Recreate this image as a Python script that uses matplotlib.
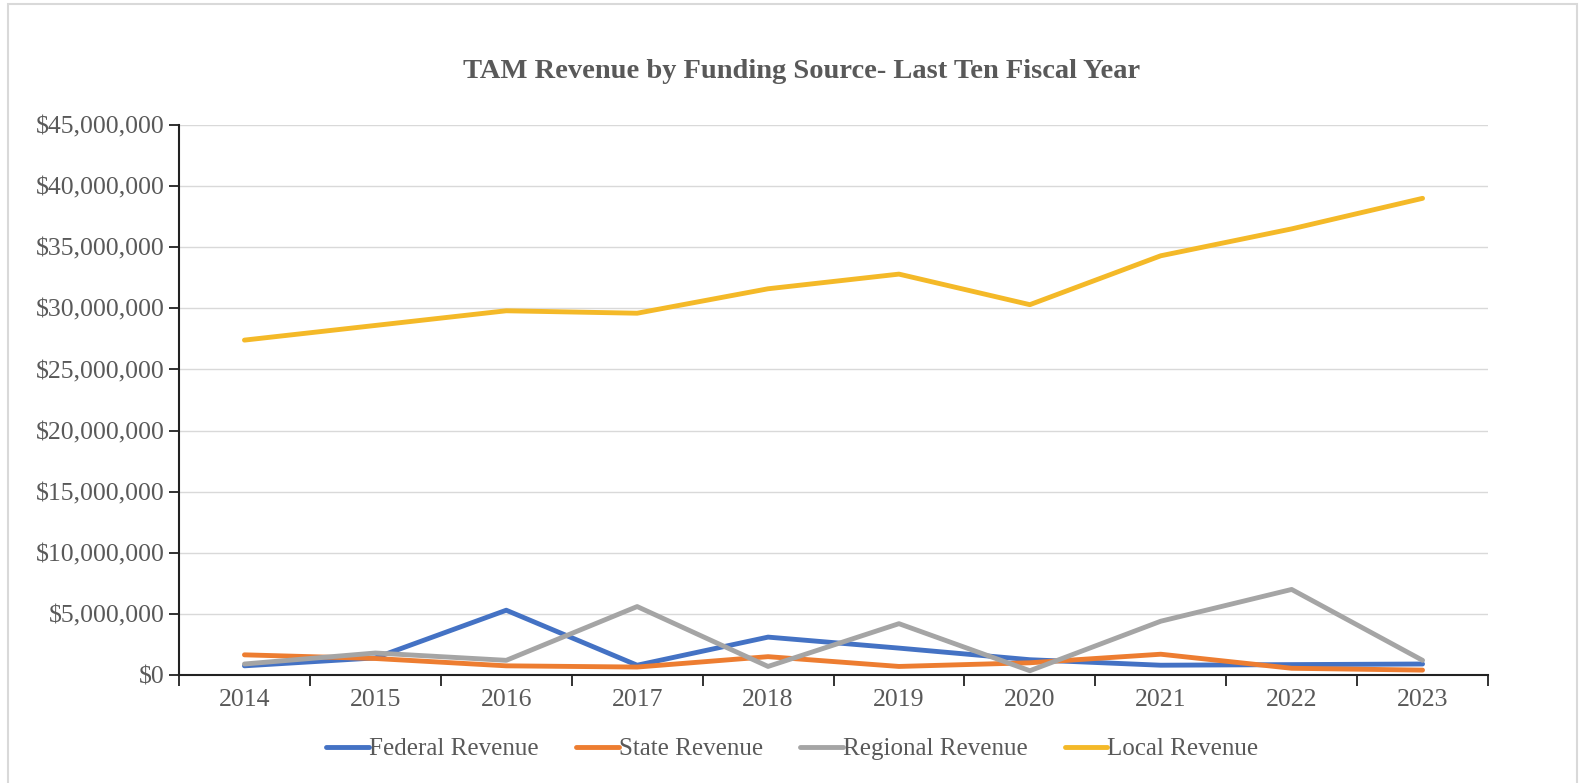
import matplotlib
matplotlib.use("Agg")
import matplotlib.pyplot as plt
from matplotlib.ticker import FuncFormatter, MultipleLocator, FixedLocator
from matplotlib.patches import Rectangle

years = ["2014", "2015", "2016", "2017", "2018", "2019", "2020", "2021", "2022", "2023"]
federal = [0.75e6, 1.4e6, 5.3e6, 0.8e6, 3.1e6, 2.2e6, 1.25e6, 0.8e6, 0.85e6, 0.9e6]
state = [1.65e6, 1.35e6, 0.75e6, 0.65e6, 1.5e6, 0.7e6, 1.0e6, 1.7e6, 0.55e6, 0.4e6]
regional = [0.9e6, 1.8e6, 1.2e6, 5.6e6, 0.7e6, 4.2e6, 0.35e6, 4.4e6, 7.0e6, 1.2e6]
local = [27.4e6, 28.6e6, 29.8e6, 29.6e6, 31.6e6, 32.8e6, 30.3e6, 34.3e6, 36.5e6, 39.0e6]

series = [
    ("Federal Revenue", federal, "#4472C4"),
    ("State Revenue", state, "#ED7D31"),
    ("Regional Revenue", regional, "#A5A5A5"),
    ("Local Revenue", local, "#F4B928"),
]

W, H = 1585, 783
fig = plt.figure(figsize=(W / 100, H / 100), dpi=100)
ax = fig.add_axes([179 / W, 1 - 675 / H, (1488 - 179) / W, (675 - 125) / H])

x = list(range(len(years)))
for name, vals, col in series:
    ax.plot(x, vals, color=col, lw=3.5, label=name, solid_capstyle="round", solid_joinstyle="round")

ax.set_xlim(-0.5, len(years) - 0.5)
ax.set_ylim(0, 45e6)
ax.yaxis.set_major_locator(MultipleLocator(5e6))
ax.yaxis.set_major_formatter(FuncFormatter(lambda v, p: "${:,.0f}".format(v)))
ax.set_xticks(x)
ax.set_xticklabels(years)
ax.xaxis.set_minor_locator(FixedLocator([i - 0.5 for i in range(len(years) + 1)]))
ax.tick_params(axis="x", which="major", length=0, pad=10)
ax.tick_params(axis="x", which="minor", length=8, width=1.3, color="#222222", direction="out")
ax.tick_params(axis="y", which="major", length=7, width=1.3, color="#222222", direction="out", pad=3.5)

serif = ["Liberation Serif", "DejaVu Serif"]
for lab in ax.get_xticklabels() + ax.get_yticklabels():
    lab.set_fontfamily(serif)
    lab.set_fontsize(18.5)
    lab.set_color("#595959")

ax.grid(axis="y", color="#d9d9d9", lw=1.0)
ax.set_axisbelow(True)
for s in ["top", "right"]:
    ax.spines[s].set_visible(False)
for s in ["left", "bottom"]:
    ax.spines[s].set_color("#222222")
    ax.spines[s].set_linewidth(1.5)

fig.text(0.506, 1 - 72 / H, "TAM Revenue by Funding Source- Last Ten Fiscal Year",
         ha="center", va="center", fontsize=20.5, fontweight="bold",
         color="#595959", family=serif)

leg = fig.legend(loc="center", bbox_to_anchor=(0.5, 1 - 749 / H), ncol=4, frameon=False,
                 handlelength=1.7, handletextpad=0.0, columnspacing=1.5,
                 prop={"family": serif, "size": 18})
for t in leg.get_texts():
    t.set_color("#595959")

fig.patches.append(Rectangle((8 / W, -0.01), (1577 - 8) / W, 1 - 4 / H + 0.01,
                             transform=fig.transFigure, fill=False,
                             edgecolor="#d9d9d9", lw=1.5))

fig.savefig("out.png", dpi=100)
